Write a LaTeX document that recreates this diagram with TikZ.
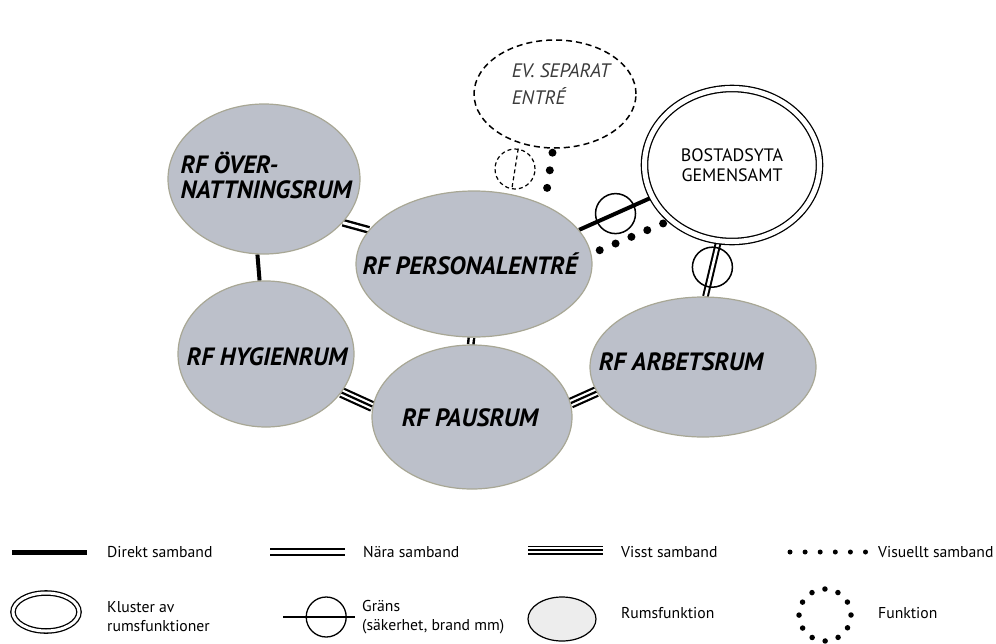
\documentclass[tikz,border=0pt]{standalone}
\usepackage{fontspec}
\setmainfont{PT Sans}
\usetikzlibrary{shapes.geometric,backgrounds}

\definecolor{rfgray}{HTML}{BCC0CA}
\definecolor{rfedge}{HTML}{A8A795}
\definecolor{evtextcol}{HTML}{3A3A3A}

\tikzset{
  rum/.style={ellipse, fill=rfgray, draw=rfedge, line width=1.2pt, inner sep=0pt},
  rftext/.style={font=\fontsize{25}{25}\selectfont\bfseries\itshape, align=left, inner sep=0pt},
  kluster/.style={ellipse, draw, double, double distance=5pt, line width=1.3pt, inner sep=0pt},
  funk/.style={ellipse, draw, dash pattern=on 6pt off 4pt, line width=1.5pt, inner sep=0pt},
  direkt/.style={line width=4pt},
  nara/.style={double, double distance=3pt, line width=2.4pt},
  visst/.style={line width=11pt, postaction={draw=white, line width=6.6pt}, postaction={draw=black, line width=2.2pt}},
  visuellt/.style={line width=8pt, line cap=round, dash pattern=on 0pt off 17.2pt},
  grans/.style={circle, draw, line width=1.5pt, minimum size=40pt, inner sep=0pt},
  legtext/.style={font=\fontsize{15.7}{19}\selectfont, anchor=west, align=left, inner sep=0pt},
}

\begin{document}
\begin{tikzpicture}[x=1pt,y=-1pt]
    \useasboundingbox (0,0) rectangle (996,643);

    % rumsfunktioner
    \node[rum, minimum width=192pt, minimum height=150pt,
          label={[rftext, xshift=2pt, yshift=4pt]center:RF ÖVER-\\NATTNINGSRUM}] (over) at (264,179) {};
    \node[rum, minimum width=236pt, minimum height=146pt,
          label={[rftext, xshift=-4pt]center:RF PERSONALENTRÉ}] (pers) at (474,264) {};
    \node[rum, minimum width=176pt, minimum height=146pt,
          label={[rftext, xshift=1pt, yshift=-3pt]center:RF HYGIENRUM}] (hyg) at (266,354) {};
    \node[rum, minimum width=200pt, minimum height=144pt,
          label={[rftext, xshift=-2pt, yshift=-1pt]center:RF PAUSRUM}] (paus) at (472,417) {};
    \node[rum, minimum width=226pt, minimum height=140pt,
          label={[rftext, xshift=-22pt, yshift=5pt]center:RF ARBETSRUM}] (arb) at (703,367) {};

    \node[kluster, minimum width=175pt, minimum height=153pt,
          label={[font=\fontsize{18}{20}\selectfont, align=center]center:BOSTADSYTA\\GEMENSAMT}] (bost) at (732,165) {};
    \node[funk, minimum width=162pt, minimum height=108pt,
          label={[font=\fontsize{19.5}{27}\selectfont\itshape, text=evtextcol, align=left, xshift=6pt, yshift=10pt]center:EV. SEPARAT\\ENTRÉ}] (ev) at (555,94) {};
    \node[circle, draw, dash pattern=on 4pt off 3pt, line width=1.2pt, minimum size=40pt] (evgrans) at (515,169) {};
    \draw[dash pattern=on 4pt off 3pt, line width=1.2pt] (evgrans.81) -- (evgrans.261);

    % samband
    \begin{scope}[on background layer]
        \draw[direkt] (over.265) -- (hyg.95);
        \draw[nara] (over.-29) -- (pers.162);
        \draw[nara] (pers.268) -- (paus.91);
        \draw[visst] (hyg.-27) -- (paus.174);
        \draw[visst] (paus.8) -- (arb.193);
        \draw[direkt] (pers.18) -- node[grans] (g1) {} (bost.202);
        \draw[visuellt, shorten <=9pt, shorten >=7pt] (pers.5) -- (bost.222);
        \draw[visuellt, dash pattern=on 0pt off 17.8pt, shorten <=4pt] (ev.268) -- (pers.40);
        \draw[nara, double distance=2.6pt, line width=2pt] (bost.260) -- node[grans, pos=0.47] (g2) {} (arb.88);
    \end{scope}

    % teckenförklaring
    \coordinate (d1) at (12,552);   \coordinate (d2) at (87,552);
    \draw[line width=5pt] (d1) -- (d2);
    \node[legtext] (td) at (107,552) {Direkt samband};

    \coordinate (n1) at (270,552);  \coordinate (n2) at (345,552);
    \draw[nara, line width=2pt, double distance=3.5pt] (n1) -- (n2);
    \node[legtext] (tn) at (363,552) {Nära samband};

    \coordinate (v1) at (528,550);  \coordinate (v2) at (603,550);
    \draw[visst, line width=9pt, postaction={draw=white, line width=5pt}, postaction={draw=black, line width=1.8pt}] (v1) -- (v2);
    \node[legtext] (tv) at (621,552) {Visst samband};

    \coordinate (s1) at (790,552);  \coordinate (s2) at (866,552);
    \draw[line width=5pt, line cap=round, dash pattern=on 0pt off 15.1pt] (s1) -- (s2);
    \node[legtext] (ts) at (878,552) {Visuellt samband};

    \node[kluster, double distance=3pt, minimum width=66pt, minimum height=38pt] (lk) at (46,612) {};
    \node[legtext] (tk) at (107,617) {Kluster av\\rumsfunktioner};

    \coordinate (gr1) at (283,617); \coordinate (gr2) at (355,617);
    \draw[line width=1.3pt] (gr1) -- node[grans, pos=0.6, line width=1.3pt] (lg) {} (gr2);
    \node[legtext] (tg) at (362,617) {Gräns\\(säkerhet, brand mm)};

    \node[ellipse, draw, fill=black!7, line width=1.2pt, minimum width=68pt, minimum height=44pt] (lr) at (562,619) {};
    \node[legtext] (tr) at (621,613) {Rumsfunktion};

    \node[circle, draw, line width=5.5pt, line cap=round, dash pattern=on 0pt off 13.61pt, minimum size=52pt, inner sep=0pt] (lf) at (825,615) {};
    \node[legtext] (tf) at (878,613) {Funktion};
\end{tikzpicture}
\end{document}
